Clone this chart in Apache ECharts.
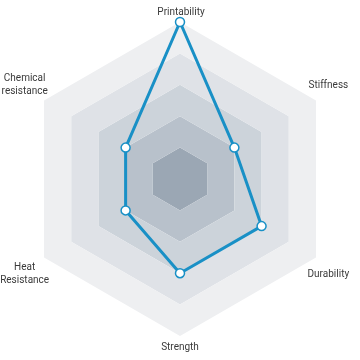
<!DOCTYPE html>
<html>
<head>
<meta charset="utf-8">
<script src="https://cdn.jsdelivr.net/npm/echarts@6/dist/echarts.min.js"></script>
<style>
  html, body { margin: 0; padding: 0; background: #fff; }
  #chart { width: 360px; height: 360px; }
</style>
</head>
<body>
<div id="chart"></div>
<script type="text/javascript">
// 指标（逆时针，从顶部开始）与数值
var indicatorNames = ['Printability', 'Chemical\nresistance', 'Heat\nResistance', 'Strength', 'Durability', 'Stiffness'];
var maxValue = 5;
var values = [5, 2, 2, 3, 3, 2];

// 从内到外的环颜色
var ringColors = ['#9ba7b4', '#b8c1cb', '#ccd3da', '#dfe2e7', '#eeeff1'];

// 标签微调 [dx, dy]，与 indicatorNames 对应
var nameNudge = [[1, 2], [-9, -10], [-9, 10], [0, -1], [2, 11], [2, -9]];

var chart = echarts.init(document.getElementById('chart'));

var indicators = [];
var rich = {};
for (var i = 0; i < indicatorNames.length; i++) {
    indicators.push({ name: indicatorNames[i], max: maxValue });
    var dx = nameNudge[i][0], dy = nameNudge[i][1];
    rich['t' + i] = {
        color: '#3a3a3a',
        fontFamily: 'Roboto',
        fontSize: 10,
        lineHeight: 13,
        align: 'center',
        padding: [0, dx < 0 ? -2 * dx : 0, 0, dx > 0 ? 2 * dx : 0]
    };
    rich['s' + i] = { fontSize: 1, height: Math.abs(2 * dy), lineHeight: Math.abs(2 * dy) };
}

var option = {
    animation: false,
    radar: {
        center: [180, 179],
        radius: 157,
        startAngle: 90,
        shape: 'polygon',
        splitNumber: 5,
        indicator: indicators,
        nameGap: 12,
        axisName: {
            align: 'center',
            verticalAlign: 'middle',
            formatter: function (name) {
                var k = indicatorNames.indexOf(name);
                var lines = name.split('\n').map(function (l) { return '{t' + k + '|' + l + '}'; });
                var dy = nameNudge[k][1];
                if (dy > 0) lines.unshift('{s' + k + '| }');
                if (dy < 0) lines.push('{s' + k + '| }');
                return lines.join('\n');
            },
            rich: rich
        },
        axisLine: { show: false },
        axisTick: { show: false },
        splitLine: { show: false },
        splitArea: {
            show: true,
            areaStyle: { color: ringColors }
        }
    },
    series: [{
        type: 'radar',
        symbol: 'circle',
        symbolSize: 9,
        lineStyle: { color: '#1990c6', width: 3 },
        itemStyle: { color: '#ffffff', borderColor: '#1990c6', borderWidth: 1.5 },
        data: [{ value: values }]
    }]
};

chart.setOption(option);
</script>
</body>
</html>
